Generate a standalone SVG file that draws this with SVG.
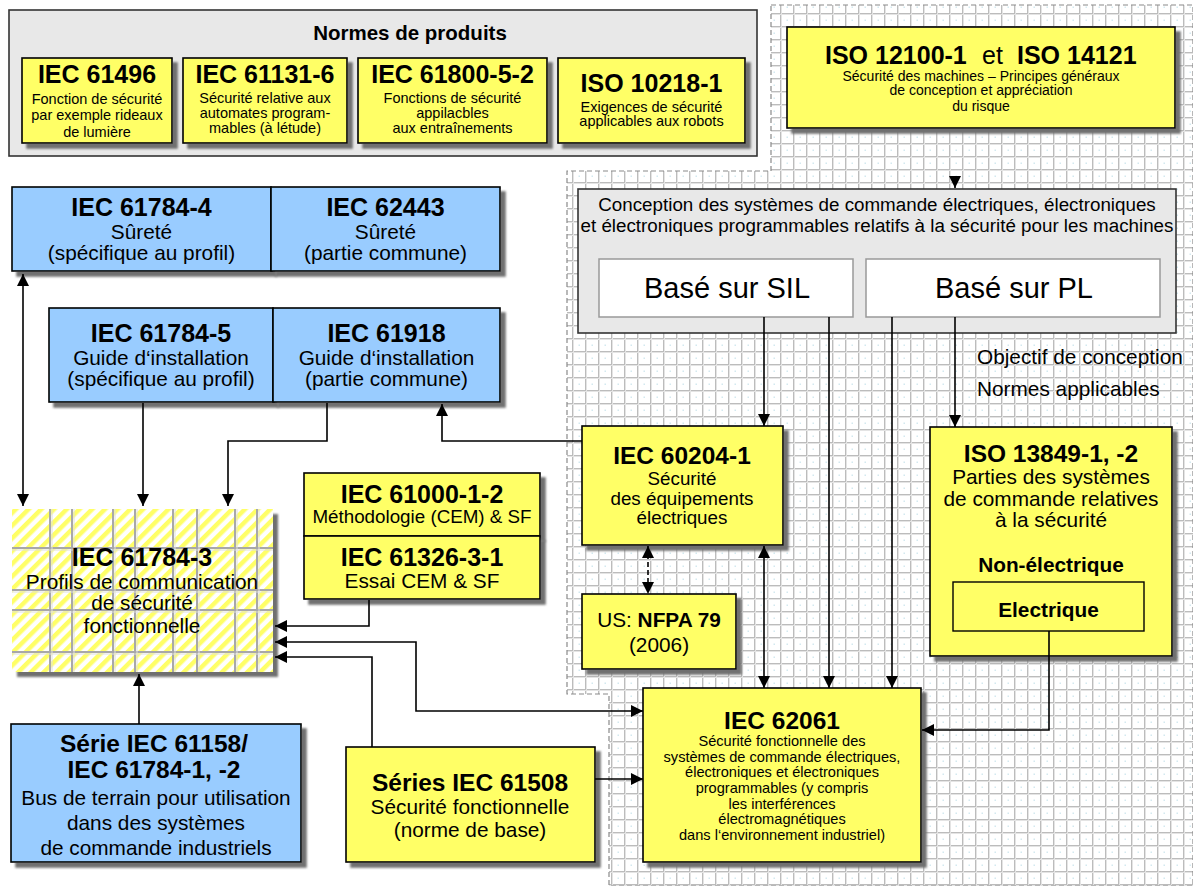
<svg xmlns="http://www.w3.org/2000/svg" width="1193" height="886" viewBox="0 0 1193 886">
<style>
text{font-family:"Liberation Sans",Arial,sans-serif;fill:#000;text-anchor:middle}
.tb{font-weight:bold;font-size:24.5px}
.tp{font-weight:bold;font-size:25px}
.s20{font-size:20.8px}
.s18{font-size:18.8px}
.s14{font-size:14.5px}
.y{fill:#ffff66;stroke:#000;stroke-width:1.6}
.b{fill:#99ccff;stroke:#000;stroke-width:1.6}
.g{fill:#e8e8e8;stroke:#333;stroke-width:1.6}
.w{fill:#fff;stroke:#999;stroke-width:1.5}
.ln{fill:none;stroke:#000;stroke-width:1.6}
.sh{filter:url(#shadow)}
</style>
<defs>
<filter id="shadow" x="-10%" y="-10%" width="130%" height="130%">
<feOffset in="SourceAlpha" dx="5" dy="5" result="o"/>
<feGaussianBlur in="o" stdDeviation="0.8" result="bl"/>
<feFlood flood-color="#707070"/>
<feComposite in2="bl" operator="in" result="s"/>
<feMerge><feMergeNode in="s"/><feMergeNode in="SourceGraphic"/></feMerge>
</filter>
<pattern id="grid" width="13" height="13" patternUnits="userSpaceOnUse">
<rect width="13" height="13" fill="#fff"/>
<rect x="6.5" y="6.5" width="1.5" height="1.5" fill="#d3e9f0"/>
<path d="M0 0.5H13M0.5 0V13" stroke="#bcbcbc" stroke-width="1"/>
<path d="M0 1.5H13M1.5 0V13" stroke="#e4e4e4" stroke-width="1"/>
</pattern>
<pattern id="hatch" width="9" height="9" patternUnits="userSpaceOnUse" patternTransform="rotate(45)">
<rect width="9" height="9" fill="#fff"/>
<rect width="4.5" height="9" fill="#ffff66"/>
</pattern>
<marker id="ah" markerWidth="12" markerHeight="12" viewBox="0 0 12 12" refX="12" refY="6" orient="auto-start-reverse" markerUnits="userSpaceOnUse">
<path d="M0,0 L12,6 L0,12 Z" fill="#000"/>
</marker>
</defs>

<rect width="1193" height="886" fill="#fff"/>
<path id="grid-area" d="M771,5 H1193 V886 H609 V694 H567 V171 H771 Z" fill="url(#grid)" stroke="#8a8a8a" stroke-width="1.2" stroke-dasharray="5,3"/>

<g id="produits">
<rect class="g" x="9" y="10" width="748" height="146"/>
<text x="410" y="40" style="font-weight:bold;font-size:20.5px">Normes de produits</text>
</g>
<g id="iec61496">
<rect class="y sh" x="22" y="58" width="150" height="85"/>
<text class="tp" x="97" y="83">IEC 61496</text>
<text class="s14" x="97" y="104">Fonction de sécurité</text>
<text class="s14" x="97" y="120">par exemple rideaux</text>
<text class="s14" x="97" y="137">de lumière</text>
</g>
<g id="iec61131">
<rect class="y sh" x="183" y="58" width="164" height="85"/>
<text class="tp" x="265" y="83">IEC 61131-6</text>
<text class="s14" x="265" y="103">Sécurité relative aux</text>
<text class="s14" x="265" y="118">automates program-</text>
<text class="s14" x="265" y="133">mables (à létude)</text>
</g>
<g id="iec61800">
<rect class="y sh" x="358" y="58" width="189" height="85"/>
<text class="tp" x="452.5" y="83">IEC 61800-5-2</text>
<text class="s14" x="452.5" y="103">Fonctions de sécurité</text>
<text class="s14" x="452.5" y="118">appilacbles</text>
<text class="s14" x="452.5" y="133">aux entraînements</text>
</g>
<g id="iso10218">
<rect class="y sh" x="558" y="58" width="187" height="85"/>
<text class="tp" x="651.5" y="92">ISO 10218-1</text>
<text class="s14" x="651.5" y="112">Exigences de sécurité</text>
<text class="s14" x="651.5" y="126">applicables aux robots</text>
</g>

<g id="iso12100">
<rect class="y sh" x="787" y="27" width="388" height="101"/>
<text x="825" y="64" style="text-anchor:start;font-size:25px;font-weight:bold">ISO 12100-1</text>
<text x="982" y="64" style="text-anchor:start;font-size:25px">et</text>
<text x="1017" y="64" style="text-anchor:start;font-size:25px;font-weight:bold">ISO 14121</text>
<text x="981" y="81" style="font-size:14px">Sécurité des machines – Principes généraux</text>
<text x="981" y="95" style="font-size:14px">de conception et appréciation</text>
<text x="981" y="111" style="font-size:14px">du risque</text>
</g>

<g id="conception">
<rect class="g" x="578" y="189" width="598" height="144"/>
<text class="s18" x="877" y="211">Conception des systèmes de commande électriques, électroniques</text>
<text class="s18" x="877" y="232">et électroniques programmables relatifs à la sécurité pour les machines</text>
</g>
<g id="sil">
<rect class="w" x="599" y="259" width="254" height="58"/>
<text x="727" y="298" style="font-size:29px">Basé sur SIL</text>
</g>
<g id="pl">
<rect class="w" x="866" y="259" width="294" height="58"/>
<text x="1014" y="298" style="font-size:29px">Basé sur PL</text>
</g>
<g id="labels">
<text class="s20" x="977" y="364" style="text-anchor:start">Objectif de conception</text>
<text class="s20" x="977" y="396" style="text-anchor:start">Normes applicables</text>
</g>

<g id="iec61784-4">
<rect class="b sh" x="12" y="187" width="259" height="84"/>
<text class="tp" x="141.5" y="216">IEC 61784-4</text>
<text class="s20" x="141.5" y="239">Sûreté</text>
<text class="s20" x="141.5" y="260">(spécifique au profil)</text>
</g>
<g id="iec62443">
<rect class="b sh" x="271" y="187" width="229" height="84"/>
<text class="tp" x="385.5" y="216">IEC 62443</text>
<text class="s20" x="385.5" y="239">Sûreté</text>
<text class="s20" x="385.5" y="260">(partie commune)</text>
</g>
<g id="iec61784-5">
<rect class="b sh" x="49" y="308" width="224" height="94"/>
<text class="tp" x="161" y="342">IEC 61784-5</text>
<text class="s20" x="161" y="365">Guide d‘installation</text>
<text class="s20" x="161" y="386">(spécifique au profil)</text>
</g>
<g id="iec61918">
<rect class="b sh" x="273" y="308" width="227" height="94"/>
<text class="tp" x="386.5" y="342">IEC 61918</text>
<text class="s20" x="386.5" y="365">Guide d‘installation</text>
<text class="s20" x="386.5" y="386">(partie commune)</text>
</g>

<g id="iec61784-3">
<rect x="12" y="509" width="261" height="163" fill="url(#hatch)" class="sh"/>
<path d="M50 509V672M72 509V672M113 509V672M135 509V672M173 509V672M197 509V672M235 509V672M257 509V672M12 548H273M12 590H273M12 610H273M12 652H273" stroke="#a8a8a8" stroke-width="2" fill="none"/>
<path d="M52 509V672M74 509V672M115 509V672M137 509V672M175 509V672M199 509V672M237 509V672M259 509V672M12 550H273M12 592H273M12 612H273M12 654H273" stroke="#e0e0e0" stroke-width="1" fill="none"/>
<text class="tp" x="142" y="566">IEC 61784-3</text>
<text class="s20" x="142" y="589">Profils de communication</text>
<text class="s20" x="142" y="610">de sécurité</text>
<text class="s20" x="142" y="633">fonctionnelle</text>
</g>

<g id="iec61000">
<rect class="y sh" x="304" y="473" width="236" height="63"/>
<text class="tp" x="422" y="503">IEC 61000-1-2</text>
<text class="s18" x="422" y="523">Méthodologie (CEM) &amp; SF</text>
</g>
<g id="iec61326">
<rect class="y sh" x="304" y="536" width="236" height="63"/>
<text class="tp" x="422" y="566">IEC 61326-3-1</text>
<text class="s20" x="422" y="588">Essai CEM &amp; SF</text>
</g>

<g id="iec60204">
<rect class="y sh" x="582" y="426" width="201" height="119"/>
<text class="tb" x="682" y="464">IEC 60204-1</text>
<text class="s18" x="682" y="485">Sécurité</text>
<text class="s18" x="682" y="505">des équipements</text>
<text class="s18" x="682" y="524">électriques</text>
</g>
<g id="nfpa79">
<rect class="y sh" x="582" y="594" width="154" height="75"/>
<text class="s20" x="659" y="627">US: <tspan font-weight="bold">NFPA 79</tspan></text>
<text class="s20" x="659" y="652">(2006)</text>
</g>

<g id="iso13849">
<rect class="y sh" x="930" y="427" width="242" height="229"/>
<text class="tb" x="1051" y="462">ISO 13849-1, -2</text>
<text class="s20" x="1051" y="484">Parties des systèmes</text>
<text class="s20" x="1051" y="506">de commande relatives</text>
<text class="s20" x="1051" y="527">à la sécurité</text>
<text class="s20" x="1051" y="572" font-weight="bold">Non-électrique</text>
<rect x="953" y="582" width="191" height="49" fill="none" stroke="#000" stroke-width="1.4"/>
<text class="s20" x="1048.5" y="617" font-weight="bold">Electrique</text>
</g>

<g id="iec62061">
<rect class="y sh" x="643" y="688" width="278" height="174"/>
<text class="tb" x="782" y="729">IEC 62061</text>
<text x="782" y="746" style="font-size:14.6px">Sécurité fonctionnelle des</text>
<text x="782" y="762" style="font-size:14.6px">systèmes de commande électriques,</text>
<text x="782" y="777" style="font-size:14.6px">électroniques et électroniques</text>
<text x="782" y="793" style="font-size:14.6px">programmables (y compris</text>
<text x="782" y="809" style="font-size:14.6px">les interférences</text>
<text x="782" y="824" style="font-size:14.6px">électromagnétiques</text>
<text x="782" y="840" style="font-size:14.6px">dans l‘environnement industriel)</text>
</g>

<g id="iec61158">
<rect class="b sh" x="11" y="724" width="290" height="138"/>
<text class="tb" x="154" y="752">Série IEC 61158/</text>
<text class="tb" x="154" y="778">IEC 61784-1, -2</text>
<text class="s20" x="156" y="805">Bus de terrain pour utilisation</text>
<text class="s20" x="156" y="830">dans des systèmes</text>
<text class="s20" x="156" y="855">de commande industriels</text>
</g>
<g id="iec61508">
<rect class="y sh" x="346" y="747" width="249" height="115"/>
<text class="tb" x="470" y="791">Séries IEC 61508</text>
<text class="s20" x="470" y="814">Sécurité fonctionnelle</text>
<text class="s20" x="470" y="837">(norme de base)</text>
</g>

<g id="connectors">
<path class="ln" d="M955,176 V188" marker-end="url(#ah)"/>
<path class="ln" d="M764,317 V426" marker-end="url(#ah)"/>
<path class="ln" d="M829,317 V688" marker-end="url(#ah)"/>
<path class="ln" d="M892,317 V688" marker-end="url(#ah)"/>
<path class="ln" d="M955,317 V427" marker-end="url(#ah)"/>
<path class="ln" d="M1049,631 V730 H922" marker-end="url(#ah)"/>
<path class="ln" d="M582,441 H442 V404" marker-end="url(#ah)"/>
<path class="ln" d="M764,546 V688" marker-start="url(#ah)" marker-end="url(#ah)"/>
<path class="ln" d="M648,546 V594" stroke-dasharray="5,3" marker-start="url(#ah)" marker-end="url(#ah)"/>
<path class="ln" d="M595,779 H643" marker-end="url(#ah)"/>
<path class="ln" d="M275,642 H416 V711 H643" marker-start="url(#ah)" marker-end="url(#ah)"/>
<path class="ln" d="M372,747 V657 H275" marker-end="url(#ah)"/>
<path class="ln" d="M369,600 V626 H275" marker-end="url(#ah)"/>
<path class="ln" d="M139,724 V674" marker-end="url(#ah)"/>
<path class="ln" d="M23,274 V506" marker-start="url(#ah)" marker-end="url(#ah)"/>
<path class="ln" d="M143,403 V506" marker-end="url(#ah)"/>
<path class="ln" d="M327,403 V441 H228 V506" marker-end="url(#ah)"/>
</g>
</svg>
